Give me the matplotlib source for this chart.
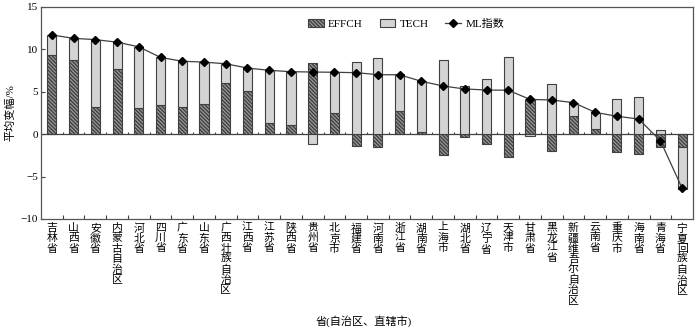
import matplotlib
matplotlib.use('Agg')
from matplotlib import pyplot as plt
from matplotlib.patches import Patch
from matplotlib.lines import Line2D
import numpy as np

plt.rcParams['font.family'] = ['Liberation Serif', 'Noto Sans CJK SC']
plt.rcParams['hatch.linewidth'] = 1.0
plt.rcParams['hatch.color'] = '#1a1a1a'

# данные
provinces = ['吉林省', '山西省', '安徽省', '内蒙古自治区', '河北省', '四川省', '广东省', '山东省',
             '广西壮族自治区', '江西省', '江苏省', '陕西省', '贵州省', '北京市', '福建省', '河南省',
             '浙江省', '湖南省', '上海市', '湖北省', '辽宁省', '天津市', '甘肃省', '黑龙江省',
             '新疆维吾尔自治区', '云南省', '重庆市', '海南省', '青海省', '宁夏回族自治区']
effch = [9.3, 8.8, 3.25, 7.7, 3.1, 3.4, 3.15, 3.5, 6.05, 5.1, 1.28, 1.08, 8.36, 2.46, -1.35,
         -1.5, 2.74, 0.3, -2.49, -0.29, -1.19, -2.73, 4.1, -1.98, 2.1, 0.58, -2.14, -2.3, -1.47, -1.47]
tech = [2.4, 2.5, 7.9, 3.15, 7.2, 5.65, 5.45, 5.0, 2.25, 2.7, 6.25, 6.29, -1.12, 4.84, 8.48,
        8.95, 4.36, 6.0, 8.75, 5.65, 6.55, 9.07, -0.2, 5.96, 1.58, 1.97, 4.19, 4.35, 0.46, -5.0]
ml = [11.7, 11.3, 11.15, 10.85, 10.3, 9.05, 8.6, 8.5, 8.3, 7.8, 7.53, 7.37, 7.33, 7.3, 7.25,
      7.02, 7.0, 6.24, 5.68, 5.33, 5.21, 5.18, 4.1, 4.03, 3.72, 2.58, 2.11, 1.79, -0.77, -6.38]

x = np.arange(len(provinces))
e = np.array(effch)
t = np.array(tech)
# положительные значения складываются вверх, отрицательные вниз
t_bottom = np.where(t >= 0, np.maximum(e, 0), np.minimum(e, 0))

fig = plt.figure(figsize=(7, 3.32), dpi=100)
ax = fig.add_axes([0.0586, 0.3404, 0.9314, 0.6386])

edge = '#404040'
hatch = '\\' * 9
w = 0.42
ax.bar(x, e, width=w, color='#9a9a9a', edgecolor=edge, hatch=hatch, linewidth=0.8, zorder=2)
ax.bar(x, t, width=w, bottom=t_bottom, color='#d4d4d4', edgecolor=edge, linewidth=0.8, zorder=2)
ax.plot(x, ml, color='#404040', lw=0.9, marker='D', ms=3.8, mfc='black', mec='black', zorder=3)

ax.axhline(0, color='#404040', lw=0.9, zorder=1)
bounds = np.arange(len(provinces) + 1) - 0.5
ax.vlines(bounds[1:-1], 0, 0.3, color='#404040', lw=0.8, zorder=1)

ax.set_xlim(-0.5, len(provinces) - 0.5)
ax.set_ylim(-10, 15)
ax.set_yticks([-10, -5, 0, 5, 10, 15])
ax.set_yticklabels(['\u221210', '\u22125', '0', '5', '10', '15'], fontsize=8)
ax.tick_params(axis='y', direction='in', length=3, width=0.8, color='#404040', pad=2)

ax.set_xticks(x)
ax.set_xticklabels(['\n'.join(p) for p in provinces], fontsize=7.8, linespacing=1.03, va='top')
ax.tick_params(axis='x', which='major', length=0, pad=3)
ax.set_xticks(bounds[1:-1], minor=True)
ax.tick_params(axis='x', which='minor', direction='in', length=3, width=0.8, color='#404040')

for s in ax.spines.values():
    s.set_color('#555555')
    s.set_linewidth(0.9)

ax.set_ylabel('平均变幅/%', fontsize=8, labelpad=4)
fig.text(0.52, 0.015, '省(自治区、直辖市)', fontsize=8, ha='center', va='bottom')

handles = [
    Patch(facecolor='#9a9a9a', edgecolor=edge, hatch=hatch, lw=0.8, label='EFFCH'),
    Patch(facecolor='#d4d4d4', edgecolor=edge, lw=0.8, label='TECH'),
    Line2D([], [], color='#404040', lw=0.9, marker='D', ms=3.8, mfc='black', mec='black', label='ML指数'),
]
ax.legend(handles=handles, ncol=3, frameon=False, fontsize=8, loc='center',
          bbox_to_anchor=(0.56, 0.92), handlelength=1.4, handletextpad=0.4, columnspacing=1.5)

fig.savefig('out.png', dpi=100)
